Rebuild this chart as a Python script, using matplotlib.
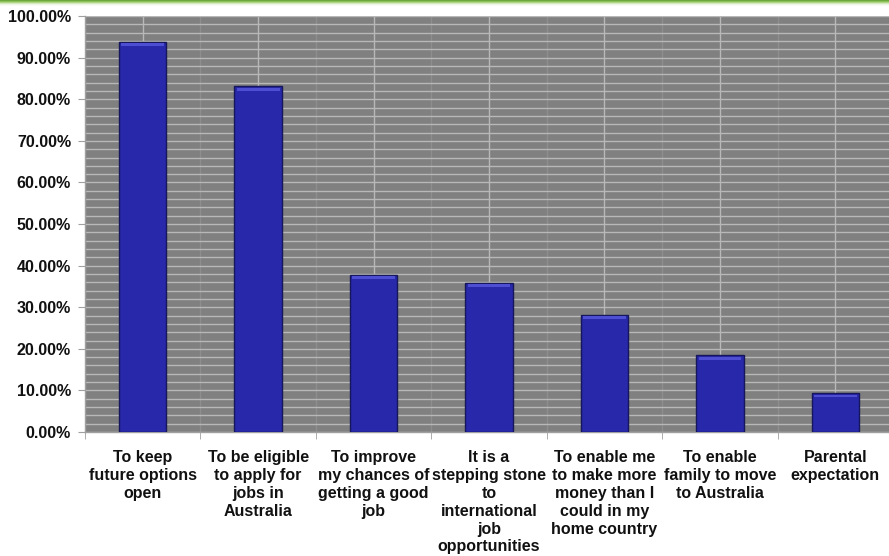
import matplotlib.pyplot as plt
import matplotlib.ticker as mticker
from matplotlib.colors import LinearSegmentedColormap
import numpy as np

# reasons for studying / share of respondents
reasons = [
    'To keep\nfuture options\nopen',
    'To be eligible\nto apply for\njobs in\nAustralia',
    'To improve\nmy chances of\ngetting a good\njob',
    'It is a\nstepping stone\nto\ninternational\njob\nopportunities',
    'To enable me\nto make more\nmoney than I\ncould in my\nhome country',
    'To enable\nfamily to move\nto Australia',
    'Parental\nexpectation',
]
share = [0.938, 0.831, 0.377, 0.358, 0.281, 0.184, 0.093]

plt.rcParams['font.family'] = ['Liberation Sans', 'DejaVu Sans']
plt.rcParams['font.weight'] = 'bold'

fig = plt.figure(figsize=(8.89, 5.56), dpi=100)
ax = fig.add_axes([0.0956, 0.223, 0.909, 0.748])
ax.set_facecolor('#808080')

x = np.arange(len(reasons))
ax.set_xlim(-0.5, len(reasons) - 0.5)
ax.set_ylim(0, 1)

# main bars plus a lighter bevel along the top edge
ax.bar(x, share, width=0.41, color='#2828aa', edgecolor='#16165c', linewidth=1.0, zorder=3)
bevel = 0.007
ax.bar(x, [bevel] * len(share), bottom=[v - bevel - 0.003 for v in share], width=0.37,
       color='#4e4ed2', linewidth=0, zorder=4)

# ticks: labels at category centres, tick marks at the boundaries
ax.set_xticks(x)
ax.set_xticklabels(reasons, fontsize=11.5, fontweight='bold', linespacing=1.24,
                   va='top', ha='center', color='#111111')
ax.set_xticks(np.arange(-0.5, len(reasons)), minor=True)
ax.tick_params(axis='x', which='major', length=0, pad=13)
ax.tick_params(axis='x', which='minor', length=5, color='#a0a0a0', direction='out')

ax.yaxis.set_major_locator(mticker.MultipleLocator(0.1))
ax.yaxis.set_minor_locator(mticker.MultipleLocator(0.02))
ax.yaxis.set_major_formatter(mticker.FuncFormatter(lambda v, p: f'{v * 100:.2f}%'))
ax.tick_params(axis='y', which='major', length=5, color='#a0a0a0', pad=5,
               labelsize=11.5, labelcolor='#111111')
ax.tick_params(axis='y', which='minor', length=0)
for lab in ax.get_yticklabels():
    lab.set_fontweight('bold')

ax.grid(axis='y', which='both', color='#b8b8b8', linewidth=1.0, zorder=1)
ax.grid(axis='x', which='major', color='#b8b8b8', linewidth=1.0, zorder=1)
ax.grid(axis='x', which='minor', color='#8e8e8e', linewidth=1.0, zorder=1)
ax.set_axisbelow(True)

for side in ('top', 'right'):
    ax.spines[side].set_visible(False)
for side in ('left', 'bottom'):
    ax.spines[side].set_color('#a0a0a0')
    ax.spines[side].set_linewidth(1.0)

# green strip across the top of the slide
band = fig.add_axes([0, 1 - 6 / 556, 1, 6 / 556])
green = LinearSegmentedColormap.from_list('band', ['#5c9c2c', '#9fcd6a', '#e8f3dc', '#ffffff'])
grad = np.linspace(0, 1, 60).reshape(-1, 1)
band.imshow(grad, cmap=green, aspect='auto', extent=[0, 1, 0, 1])
band.set_axis_off()

fig.savefig('out.png', dpi=100)
